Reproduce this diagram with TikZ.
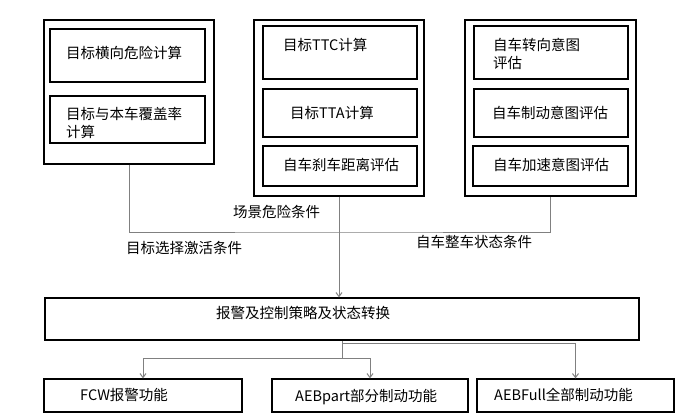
\documentclass[tikz,border=0pt]{standalone}
\usepackage{fontspec}
\setmainfont{Noto Sans CJK SC}
\usepackage{xcolor}
\usetikzlibrary{arrows.meta, positioning}
\definecolor{WireGray}{RGB}{128,128,128}

\begin{document}
\begin{tikzpicture}[x=1pt, y=-1pt,
      frame/.style={draw=black, line width=1.3pt, inner sep=0pt},
      txt/.style={anchor=west, inner sep=0pt, align=left,
                  font=\fontsize{14.5}{18}\selectfont},
      wire/.style={draw=WireGray, line width=1pt},
      flow/.style={wire, -{Straight Barb[length=4pt,width=6pt]}}
    ]
      \useasboundingbox (0,0) rectangle (692,415);

      % three groups of checks
      \node[frame, minimum width=170, minimum height=144] (lo) at (129,92) {};
      \node[frame, minimum width=155, minimum height=53] (l1) at (127.5,55.5) {};
      \node[frame, minimum width=155, minimum height=47] (l2) at (127.5,119.5) {};
      \node[txt] (l1t) at (66,53)  {目标横向危险计算};
      \node[txt] (l2t) at (66,122.5) {目标与本车覆盖率\\计算};

      \node[frame, minimum width=170, minimum height=176] (mo) at (339,108) {};
      \node[frame, minimum width=154, minimum height=53] (m1) at (340,52.5) {};
      \node[frame, minimum width=154, minimum height=48] (m2) at (340,113) {};
      \node[frame, minimum width=154, minimum height=40] (m3) at (340,166) {};
      \node[txt] (m1t) at (283,45)  {目标TTC计算};
      \node[txt] (m2t) at (290,113) {目标TTA计算};
      \node[txt] (m3t) at (283,165) {自车刹车距离评估};

      \node[frame, minimum width=171, minimum height=176] (ro) at (550.5,108) {};
      \node[frame, minimum width=154, minimum height=53] (r1) at (551,52.5) {};
      \node[frame, minimum width=154, minimum height=48] (r2) at (551,113) {};
      \node[frame, minimum width=155, minimum height=40] (r3) at (550.5,166) {};
      \node[txt] (r1t) at (493,54)  {自车转向意图\\评估};
      \node[txt] (r2t) at (492,113) {自车制动意图评估};
      \node[txt] (r3t) at (493,165) {自车加速意图评估};

      % strategy and functions
      \node[frame, minimum width=594, minimum height=42] (ctrl) at (342,319) {};
      \node[txt] (ctrlt) at (216,313) {报警及控制策略及状态转换};

      \node[frame, minimum width=198, minimum height=33] (fcw)  at (143,395.5) {};
      \node[frame, minimum width=196, minimum height=33] (part) at (370,395.5) {};
      \node[frame, minimum width=197, minimum height=33] (full) at (575.5,395.5) {};
      \node[txt] (fcwt)  at (80,395)  {FCW报警功能};
      \node[txt] (partt) at (295,397) {AEBpart部分制动功能};
      \node[txt] (fullt) at (494,395) {AEBFull全部制动功能};

      % connectors
      \coordinate (bus) at (338,232);
      \coordinate (split) at (342,358);
      \coordinate (tap) at (342,343);
      \draw[wire] (lo.south) |- (bus) -| (ro.south);
      \draw[flow] (mo.south) -- (mo.south |- ctrl.north);
      \draw[wire] (ctrl.south -| split) -- (split);
      \draw[flow] (split) -| (fcw.north);
      \draw[flow] (split) -| (part.north);
      \draw[flow] (tap) -| (full.north);

      \node[txt] (risk)   at (233,212) {场景危险条件};
      \node[txt] (select) at (126,248) {目标选择激活条件};
      \node[txt] (state)  at (416,242) {自车整车状态条件};
    \end{tikzpicture}
\end{document}
